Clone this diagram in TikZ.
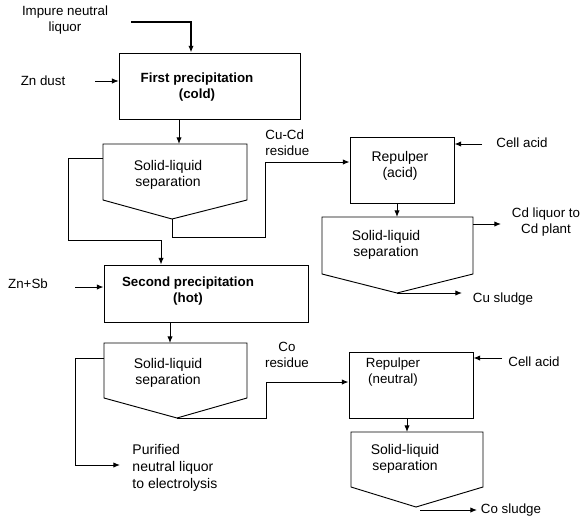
\documentclass[tikz,border=0pt]{standalone}
\usepackage{fontspec}
\setmainfont{Liberation Sans}
\usetikzlibrary{arrows.meta}
\begin{document}
\begin{tikzpicture}[x=0.75pt,y=-0.75pt,line width=0.7pt,
  arr/.style={-{Latex[length=5pt,width=4pt]}},
  lbl/.style={font=\fontsize{10}{11.5}\selectfont,align=center,inner sep=0pt},
  lbll/.style={font=\fontsize{10}{13}\selectfont,align=left,inner sep=0pt,anchor=west},
  boxtxt/.style={font=\fontsize{10.5}{12}\selectfont,align=center,inner sep=0pt},
  boldtxt/.style={font=\bfseries\fontsize{10}{12.5}\selectfont,align=center,inner sep=0pt},
  procbox/.style={draw,rectangle,inner sep=0pt}]
\useasboundingbox (0,0) rectangle (580,518);

% --- boxes (rectangles)
\node[procbox,minimum width=181*0.75pt,minimum height=66*0.75pt] (fp) at (209.5,86) {};
\node[boldtxt] (fpt) at (197,87) {First precipitation\\(cold)};
\node[procbox,minimum width=204*0.75pt,minimum height=57*0.75pt] (sp) at (206,293.5) {};
\node[boldtxt] (spt) at (188,291) {Second precipitation\\(hot)};
\node[procbox,minimum width=104*0.75pt,minimum height=66*0.75pt] (ra) at (402,170) {};
\node[boxtxt] (rat) at (400,166) {Repulper\\(acid)};
\node[procbox,minimum width=124*0.75pt,minimum height=66*0.75pt] (rn) at (411,385) {};
\node[lbl] (rnt) at (393,372) {Repulper\\(neutral)};

% --- separators (pentagons)
\coordinate (s1a) at (103,144); \coordinate (s1b) at (247,144);
\coordinate (s1c) at (247,200); \coordinate (s1d) at (172,219); \coordinate (s1e) at (103,200);
\draw (s1a) -- (s1b) -- (s1c) -- (s1d) -- (s1e) -- cycle;
\node[boxtxt] (s1t) at (168,175) {Solid-liquid\\separation};

\coordinate (s2a) at (104,343); \coordinate (s2b) at (247,343);
\coordinate (s2c) at (247,398); \coordinate (s2d) at (177,418); \coordinate (s2e) at (104,398);
\draw (s2a) -- (s2b) -- (s2c) -- (s2d) -- (s2e) -- cycle;
\node[boxtxt] (s2t) at (168,373) {Solid-liquid\\separation};

\coordinate (s3a) at (322,217); \coordinate (s3b) at (473,217);
\coordinate (s3c) at (473,274); \coordinate (s3d) at (397,293); \coordinate (s3e) at (322,274);
\draw (s3a) -- (s3b) -- (s3c) -- (s3d) -- (s3e) -- cycle;
\node[boxtxt] (s3t) at (386,245) {Solid-liquid\\separation};

\coordinate (s4a) at (351,432); \coordinate (s4b) at (483,432);
\coordinate (s4c) at (483,487); \coordinate (s4d) at (416,507); \coordinate (s4e) at (351,487);
\draw (s4a) -- (s4b) -- (s4c) -- (s4d) -- (s4e) -- cycle;
\node[boxtxt] (s4t) at (405,459) {Solid-liquid\\separation};

% --- labels
\node[lbl] (impure) at (65,20) {Impure neutral\\liquor};
\node[lbl] (zndust) at (43,81) {Zn dust};
\node[lbl] (znsb) at (28,284) {Zn+Sb};
\node[lbll,font=\fontsize{10}{12}\selectfont] (cucd) at (265,143) {Cu-Cd\\residue};
\node[lbl] (cores) at (287,355) {Co\\residue};
\node[lbl] (ca1) at (522,143) {Cell acid};
\node[lbl] (ca2) at (534,362) {Cell acid};
\node[lbl] (cdliq) at (546,222) {Cd liquor to\\Cd plant};
\node[lbl] (cusl) at (503,299) {Cu sludge};
\node[lbl] (cosl) at (511,510) {Co sludge};
\node[lbll,font=\fontsize{10.5}{13}\selectfont] (pur) at (132,468) {Purified\\neutral liquor\\to electrolysis};

% --- connector coordinates
\coordinate (i0) at (131,22); \coordinate (i1) at (191,22);
\coordinate (z0) at (95,81);
\coordinate (zs0) at (75,287);
\coordinate (c1) at (172,237); \coordinate (c2) at (265,237); \coordinate (c3) at (265,162);
\coordinate (l1) at (68,158); \coordinate (l2) at (68,240); \coordinate (l3) at (161,240);
\coordinate (k2) at (266,418); \coordinate (k3) at (266,382);
\coordinate (p1) at (75,358); \coordinate (p2) at (75,465); \coordinate (p3) at (120,465);
\coordinate (a1) at (482,144); \coordinate (a2) at (502,358);
\coordinate (cd1) at (501,224); \coordinate (cu1) at (462,293);
\coordinate (co0) at (420,510); \coordinate (co1) at (477,510);

% --- connectors
\draw[arr,line width=1.3pt] (i0) -- (i1) -- (i1 |- fp.north);
\draw[arr,line width=0.5pt] (z0) -- (z0 -| fp.west);
\draw[arr] (fp.south -| 179,0) -- (179,144);
\draw[arr] (s1d) -- (c1) -- (c2) -- (c3) -- (c3 -| ra.west);
\draw[arr] (l1 -| s1a) -- (l1) -- (l2) -- (l3) -- (l3 |- sp.north);
\draw[arr] (zs0) -- (zs0 -| sp.west);
\draw[arr] (sp.south -| 170,0) -- (170,343);
\draw[arr] (s2d) -- (k2) -- (k3) -- (k3 -| rn.west);
\draw[arr] (p1 -| s2a) -- (p1) -- (p2) -- (p3);
\draw[arr] (a1) -- (a1 -| ra.east);
\draw[arr] (ra.south -| 397,0) -- (397,217);
\draw[arr] (s3b |- cd1) -- (cd1);
\draw[arr] (s3d) -- (cu1);
\draw[arr] (a2) -- (a2 -| rn.east);
\draw[arr] (rn.south -| 407,0) -- (407,432);
\draw[arr] (co0) -- (co1);
\end{tikzpicture}
\end{document}
